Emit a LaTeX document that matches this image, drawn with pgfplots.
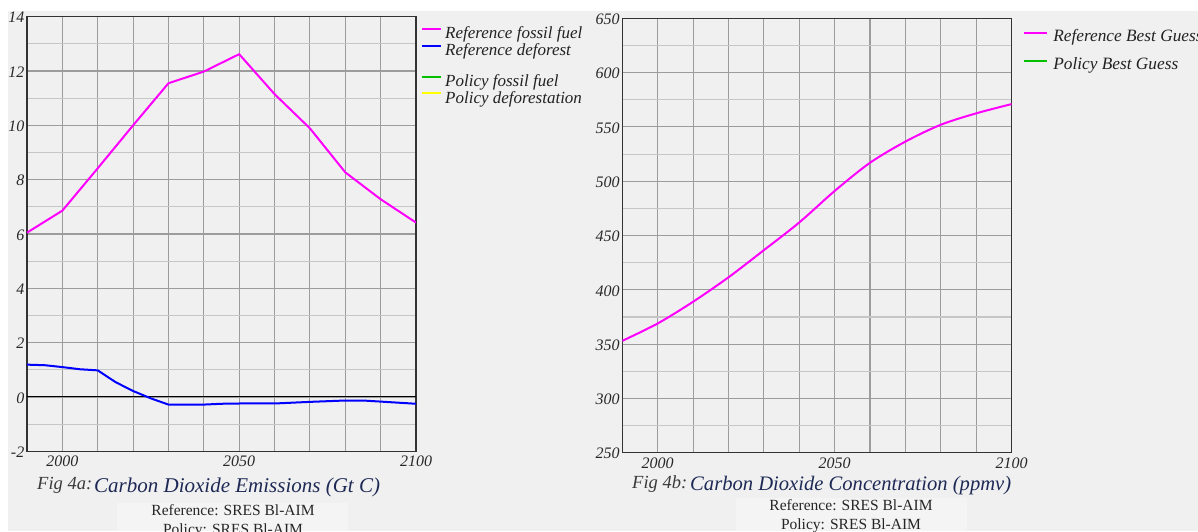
\documentclass[border=0pt]{standalone}
\usepackage{pgfplots}
\pgfplotsset{compat=1.18}
\usepackage{fontspec}
\setmainfont{Liberation Serif}

\definecolor{bg}{HTML}{F0F0F0}
\definecolor{subbg}{HTML}{F4F4F4}
\definecolor{capblue}{HTML}{1E2A55}
\definecolor{figgray}{HTML}{3A3A3A}
\definecolor{tickgray}{HTML}{282828}
\definecolor{legtext}{HTML}{222222}
\definecolor{majgrid}{HTML}{9C9C9C}
\definecolor{mingrid}{HTML}{C6C6C6}
\definecolor{refmag}{HTML}{FF00FF}
\definecolor{refblue}{HTML}{0000FF}
\definecolor{polgreen}{HTML}{00C000}
\definecolor{polyellow}{HTML}{FFFF00}

\pgfplotsset{
  cdaxis/.style={
    scale only axis,
    anchor=south west,
    xmin=1990, xmax=2100,
    xtick={1990,2000,...,2100},
    xticklabels={,2000,,,,,2050,,,,,2100},
    xmajorgrids, ymajorgrids, yminorgrids,
    major grid style={majgrid, line width=1.1pt},
    minor grid style={mingrid, line width=1.1pt},
    major tick length=0pt, minor tick length=0pt,
    axis background/.style={fill=bg},
    axis line style={black!80, line width=1.2pt},
    /pgf/number format/assume math mode=true,
    tick label style={font=\fontsize{16}{16}\selectfont\itshape, text=tickgray},
    yticklabel style={inner sep=0pt, xshift=-2.5pt, yshift=-1pt},
    xticklabel style={inner sep=0pt, yshift=-4.5pt},
    legend cell align=left,
    every axis plot/.append style={line width=2pt},
  }
}

\begin{document}
\begin{tikzpicture}[x=1pt,y=1pt]
\useasboundingbox (0,0) rectangle (1198,531);
\clip (0,0) rectangle (1198,531);
\fill[white] (0,0) rectangle (1198,531);
\fill[bg] (8,0) rectangle (1198,520);
\fill[subbg] (117,0) rectangle (348,28);
\fill[subbg] (736,0) rectangle (967,33);

% Fig 4a: emissions
\begin{axis}[cdaxis,
  at={(27pt,79.7pt)}, width=389pt, height=434.6pt,
  ymin=-2, ymax=14,
  ytick={-2,0,...,14}, minor ytick={-1,1,...,13},
  extra y ticks={0}, extra y tick labels={},
  extra y tick style={major grid style={black, line width=1pt}},
  legend image code/.code={\draw[#1] (0pt,4.4pt) -- (19pt,4.4pt);},
  legend style={at={(1,1)}, anchor=north west, xshift=5pt, yshift=-10pt,
    draw=none, fill=none, inner sep=0pt, row sep=3.2pt, column sep=3pt,
    font=\fontsize{17}{17}\selectfont\itshape, text=legtext,
    nodes={inner sep=0pt}},
]
\addplot[refmag] coordinates {
  (1990,6.05) (2000,6.86) (2010,8.42) (2020,10.0) (2030,11.55) (2040,11.98)
  (2050,12.62) (2060,11.15) (2070,9.89) (2080,8.27) (2090,7.28) (2100,6.42)
};
\addlegendentry{\rule[-4pt]{0pt}{15.5pt}Reference fossil fuel}
\addplot[refblue] coordinates {
  (1990,1.19) (1995,1.17) (2000,1.10) (2005,1.02) (2010,0.98) (2015,0.55)
  (2020,0.22) (2025,-0.05) (2030,-0.28) (2040,-0.28) (2045,-0.25) (2050,-0.24)
  (2060,-0.24) (2070,-0.18) (2080,-0.13) (2085,-0.13) (2090,-0.17) (2100,-0.25)
};
\addlegendentry{\rule[-4pt]{0pt}{15.5pt}Reference deforest}
\addlegendimage{empty legend}
\addlegendentry{\rule{0pt}{9.5pt}}
\addlegendimage{polgreen, line width=2pt}
\addlegendentry{\rule[-4pt]{0pt}{15.5pt}Policy fossil fuel}
\addlegendimage{polyellow, line width=2pt}
\addlegendentry{\rule[-4pt]{0pt}{15.5pt}Policy deforestation}
\end{axis}

% Fig 4b: concentration
\begin{axis}[cdaxis,
  at={(622.3pt,78.3pt)}, width=389.3pt, height=434.4pt,
  ymin=250, ymax=650,
  ytick={250,300,...,650}, minor ytick={275,325,...,625},
  legend image code/.code={\draw[#1] (0pt,2.7pt) -- (23pt,2.7pt);},
  legend style={at={(1,1)}, anchor=north west, xshift=11pt, yshift=-10.4pt,
    draw=none, fill=none, inner sep=0pt, row sep=14.7pt, column sep=5.5pt,
    font=\fontsize{17.3}{17.3}\selectfont\itshape, text=legtext,
    nodes={inner sep=0pt}},
]
\addplot[refmag, smooth] coordinates {
  (1990,353) (2000,369) (2010,389) (2020,411.5) (2030,436.5) (2040,462)
  (2050,491) (2060,517) (2070,536.5) (2080,552) (2090,562.5) (2100,571)
};
\addlegendentry{\rule[-4pt]{0pt}{15pt}Reference Best Guess}
\addlegendimage{polgreen, line width=2pt}
\addlegendentry{\rule[-4pt]{0pt}{15pt}Policy Best Guess}
\end{axis}

% captions
\node[anchor=base west, inner sep=0pt, text=figgray] at (37,41.7)
  {\fontsize{18.5}{18.5}\selectfont\itshape Fig 4a:};
\node[anchor=base west, inner sep=0pt, text=capblue] at (94,38.7)
  {\fontsize{21}{21}\selectfont\itshape Carbon Dioxide Emissions (Gt C)};
\node[anchor=base, inner sep=0pt, text=black!85] at (233,16)
  {\fontsize{15.5}{15.5}\selectfont Reference: SRES Bl-AIM};
\node[anchor=base, inner sep=0pt, text=black!85] at (233,-3)
  {\fontsize{15.5}{15.5}\selectfont Policy: SRES Bl-AIM};

\node[anchor=base west, inner sep=0pt, text=figgray] at (632,42.7)
  {\fontsize{18.5}{18.5}\selectfont\itshape Fig 4b:};
\node[anchor=base west, inner sep=0pt, text=capblue] at (690,41)
  {\fontsize{20.6}{20.6}\selectfont\itshape Carbon Dioxide Concentration (ppmv)};
\node[anchor=base, inner sep=0pt, text=black!85] at (851,20.3)
  {\fontsize{15.5}{15.5}\selectfont Reference: SRES Bl-AIM};
\node[anchor=base, inner sep=0pt, text=black!85] at (851,2)
  {\fontsize{15.5}{15.5}\selectfont Policy: SRES Bl-AIM};
\end{tikzpicture}
\end{document}
